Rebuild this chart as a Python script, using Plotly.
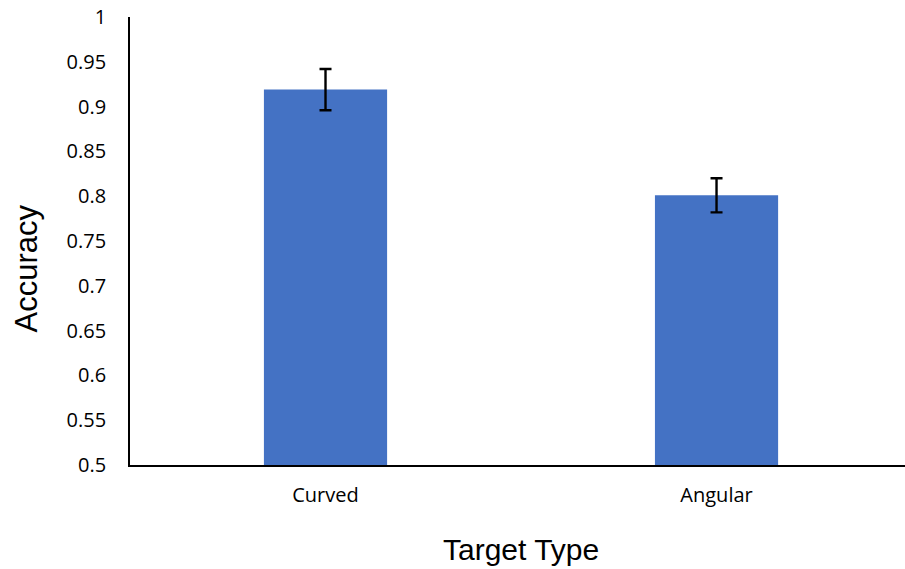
import plotly.graph_objects as go

categories = ["Curved", "Angular"]
accuracy = [0.919, 0.801]
error = [0.023, 0.019]
y_tick_vals = [0.5, 0.55, 0.6, 0.65, 0.7, 0.75, 0.8, 0.85, 0.9, 0.95, 1.0]
y_tick_text = ["0.5", "0.55", "0.6", "0.65", "0.7", "0.75", "0.8", "0.85", "0.9", "0.95", "1"]

baseline = 0.5

fig = go.Figure()
fig.add_trace(go.Bar(
    x=categories,
    y=[v - baseline for v in accuracy],
    base=baseline,
    width=0.315,
    marker=dict(color="#4472C4", line=dict(width=0)),
    error_y=dict(type="data", array=error, color="black", thickness=2.4, width=6, visible=True),
))

fig.update_layout(
    width=905, height=569,
    margin=dict(l=130, r=0, t=17, b=104),
    paper_bgcolor="white", plot_bgcolor="white",
    showlegend=False,
    font=dict(family="Open Sans", size=20, color="#000"),
    xaxis=dict(
        range=[-0.5, 1.482],
        showline=True, linecolor="#000", linewidth=1.8,
        ticks="", showgrid=False, zeroline=False,
        ticklabelstandoff=11,
        tickfont=dict(family="Open Sans", size=20, color="#000"),
    ),
    yaxis=dict(
        range=[0.5, 1.0],
        tickvals=y_tick_vals, ticktext=y_tick_text,
        showline=True, linecolor="#000", linewidth=1.8,
        ticks="", showgrid=False, zeroline=False,
        ticklabelstandoff=18,
        tickfont=dict(family="Open Sans", size=20, color="#000"),
    ),
    annotations=[
        dict(text="Accuracy", xref="paper", yref="paper", x=-0.133, y=0.4386,
             textangle=-90, showarrow=False, xanchor="center", yanchor="middle",
             font=dict(family="Liberation Sans", size=31, color="#000")),
        dict(text="Target Type", xref="paper", yref="paper", x=0.505, y=-0.1875,
             showarrow=False, xanchor="center", yanchor="middle",
             font=dict(family="Liberation Sans", size=30, color="#000")),
    ],
)

fig.write_html("out.html", config={"displayModeBar": False},
               post_script="document.body.style.margin='0';")
